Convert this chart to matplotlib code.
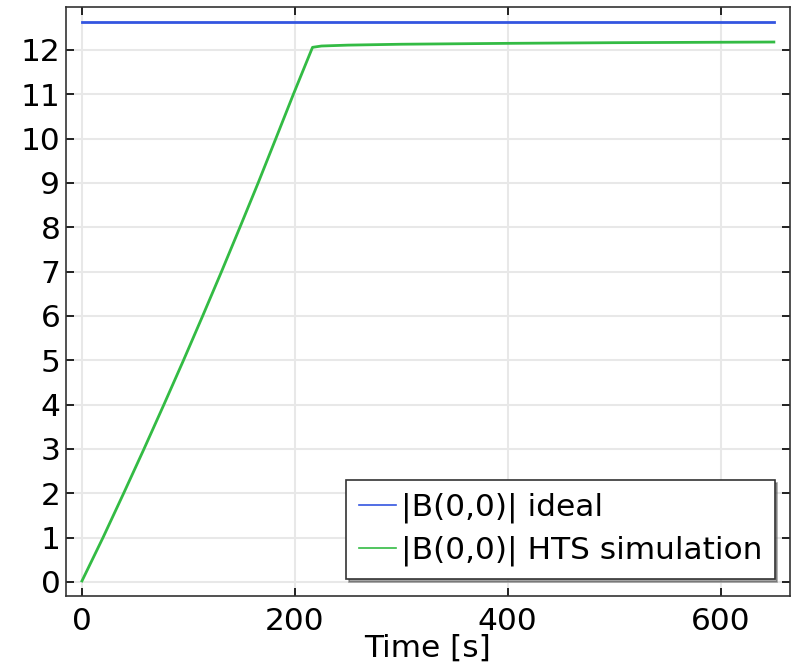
import matplotlib
matplotlib.use("Agg")
import matplotlib.pyplot as plt

# ideal field (constant)
t_ideal = [0, 650]
b_ideal = [12.63, 12.63]

# HTS simulation, values
t_hts = [0, 19.8, 39.2, 58.3, 77.0, 95.4, 113.4, 131.1, 148.4, 165.5, 182.1, 198.6,
         216.6, 225, 250, 300, 400, 500, 650]
b_hts = [0.02, 1, 2, 3, 4, 5, 6, 7, 8, 9, 10, 11,
         12.06, 12.09, 12.11, 12.13, 12.15, 12.165, 12.18]

xticks = [0, 200, 400, 600]
yticks = list(range(0, 13))

plt.rcParams['font.family'] = 'DejaVu Sans'

fig = plt.figure(figsize=(7.97, 6.67), dpi=100)
ax = fig.add_axes([0.0828, 0.1064, 0.9082, 0.8831])

ax.plot(t_ideal, b_ideal, color='#3355e0', lw=2, label='|B(0,0)| ideal')
ax.plot(t_hts, b_hts, color='#33bb44', lw=2, label='|B(0,0)| HTS simulation')

ax.set_xlim(-15, 665)
ax.set_ylim(-0.32, 12.97)
ax.set_xticks(xticks)
ax.set_yticks(yticks)
ax.grid(True, color='#e8e8e8', lw=1.5)
ax.set_axisbelow(True)
ax.tick_params(direction='in', top=True, right=True, labelsize=22.5, length=6, width=1.2)
ax.tick_params(axis='x', pad=8)
ax.tick_params(axis='y', pad=4)
for s in ax.spines.values():
    s.set_linewidth(1.2)
    s.set_color('#333333')

ax.set_xlabel('Time [s]', fontsize=22.5, labelpad=-2)

leg = ax.legend(loc='lower right', bbox_to_anchor=(0.979, 0.029), borderaxespad=0,
                fontsize=22.5, fancybox=False, shadow=True, framealpha=1,
                handlelength=1.2, handletextpad=0.15, borderpad=0.4, labelspacing=0.4)
leg.get_frame().set_edgecolor('#333333')
leg.get_frame().set_linewidth(1.2)
for h in leg.get_lines():
    h.set_linewidth(1.2)

fig.savefig('out.png', dpi=100)
